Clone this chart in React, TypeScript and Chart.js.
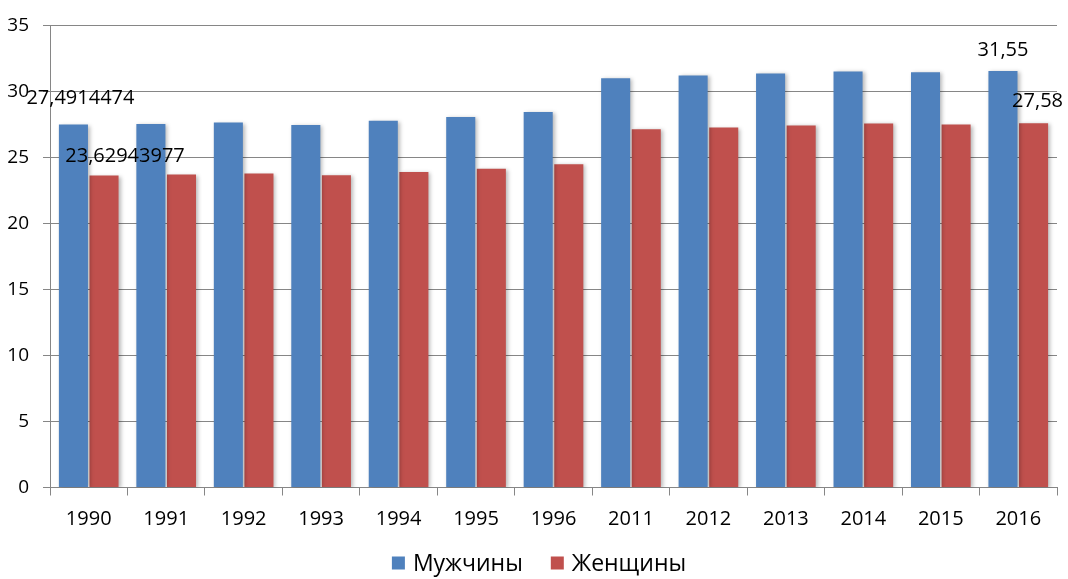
import React, { useEffect, useRef } from "react";
import { Chart, registerables } from "chart.js";

Chart.register(...registerables);

const years = ["1990", "1991", "1992", "1993", "1994", "1995", "1996", "2011", "2012", "2013", "2014", "2015", "2016"];
const men = [27.4914474, 27.54, 27.64, 27.45, 27.77, 28.07, 28.45, 30.99, 31.21, 31.36, 31.51, 31.46, 31.55];
const women = [23.62943977, 23.7, 23.78, 23.65, 23.9, 24.15, 24.48, 27.14, 27.26, 27.42, 27.57, 27.49, 27.58];
const menLabels = ["27,4914474", "", "", "", "", "", "", "", "", "", "", "", "31,55"];
const womenLabels = ["23,62943977", "", "", "", "", "", "", "", "", "", "", "", "27,58"];
const seriesNames = ["Мужчины", "Женщины"];
const seriesColors = ["#4F81BD", "#C0504D"];
const yTicks = [0, 5, 10, 15, 20, 25, 30, 35];

const FONT = "'Open Sans', 'Liberation Sans', sans-serif";

// label offsets (px) relative to bar top-centre, by dataset -> index
const labelOffsets: Record<string, [number, number]> = {
  "0-0": [7, -26],
  "1-0": [21, -19],
  "0-12": [0, -21],
  "1-12": [4, -22],
};

const shadowPlugin = {
  id: "barShadow",
  beforeDatasetDraw(chart: any) {
    const ctx = chart.ctx;
    ctx.save();
    ctx.shadowColor = "rgba(0,0,0,0.28)";
    ctx.shadowBlur = 4;
    ctx.shadowOffsetX = 2;
    ctx.shadowOffsetY = 1;
  },
  afterDatasetDraw(chart: any) {
    chart.ctx.restore();
  },
};

const labelPlugin = {
  id: "pointLabels",
  afterDatasetsDraw(chart: any) {
    const ctx = chart.ctx;
    const all = [menLabels, womenLabels];
    ctx.save();
    ctx.font = `20px ${FONT}`;
    ctx.fillStyle = "#000";
    ctx.textAlign = "center";
    ctx.textBaseline = "middle";
    all.forEach((labels, di) => {
      const meta = chart.getDatasetMeta(di);
      labels.forEach((txt, i) => {
        if (!txt) return;
        const el = meta.data[i];
        const off = labelOffsets[`${di}-${i}`] || [0, -20];
        ctx.fillText(txt, el.x + off[0], el.y + off[1]);
      });
    });
    ctx.restore();
  },
};

const legendPlugin = {
  id: "customLegend",
  afterDraw(chart: any) {
    const ctx = chart.ctx;
    ctx.save();
    ctx.font = `23px ${FONT}`;
    ctx.textBaseline = "middle";
    ctx.textAlign = "left";
    const box = 13, gapBox = 8, gapItem = 28;
    const widths = seriesNames.map((n) => box + gapBox + ctx.measureText(n).width);
    const total = widths.reduce((a, b) => a + b, 0) + gapItem * (widths.length - 1);
    let x = chart.width / 2 + 5 - total / 2;
    const cy = 563;
    seriesNames.forEach((n, i) => {
      ctx.fillStyle = seriesColors[i];
      ctx.fillRect(x, cy - box / 2, box, box);
      ctx.fillStyle = "#000";
      ctx.fillText(n, x + box + gapBox, cy + 1);
      x += widths[i] + gapItem;
    });
    ctx.restore();
  },
};

export default function App() {
  const ref = useRef<HTMLCanvasElement>(null);
  useEffect(() => {
    document.body.style.margin = "0";
    const chart = new Chart(ref.current!, {
      type: "bar",
      data: {
        labels: years,
        datasets: [
          { label: seriesNames[0], data: men, backgroundColor: seriesColors[0], barPercentage: 0.95, categoryPercentage: 0.79 },
          { label: seriesNames[1], data: women, backgroundColor: seriesColors[1], barPercentage: 0.95, categoryPercentage: 0.79 },
        ],
      },
      options: {
        animation: false,
        responsive: false,
        layout: { padding: { top: 21, right: 11, left: 0, bottom: 41.5 } },
        plugins: {
          tooltip: { enabled: false },
          legend: { display: false },
        },
        scales: {
          x: {
            grid: { offset: true, drawOnChartArea: false, drawTicks: true, tickLength: 8, color: "#868686" },
            border: { color: "#868686" },
            ticks: { font: { family: FONT, size: 20 }, color: "#000", padding: 12, maxRotation: 0 },
            afterFit: (s: any) => { s.height = 50; },
          },
          y: {
            min: 0,
            max: 35,
            afterBuildTicks: (s: any) => { s.ticks = yTicks.map((v) => ({ value: v })); },
            grid: { color: "#868686", tickLength: 7 },
            border: { color: "#868686" },
            ticks: { font: { family: FONT, size: 19 }, color: "#000", padding: 14 },
            afterFit: (s: any) => { s.width = 50; },
          },
        },
      },
      plugins: [shadowPlugin, labelPlugin, legendPlugin],
    });
    return () => chart.destroy();
  }, []);
  return <canvas ref={ref} width={1068} height={579} style={{ display: "block" }} />;
}
